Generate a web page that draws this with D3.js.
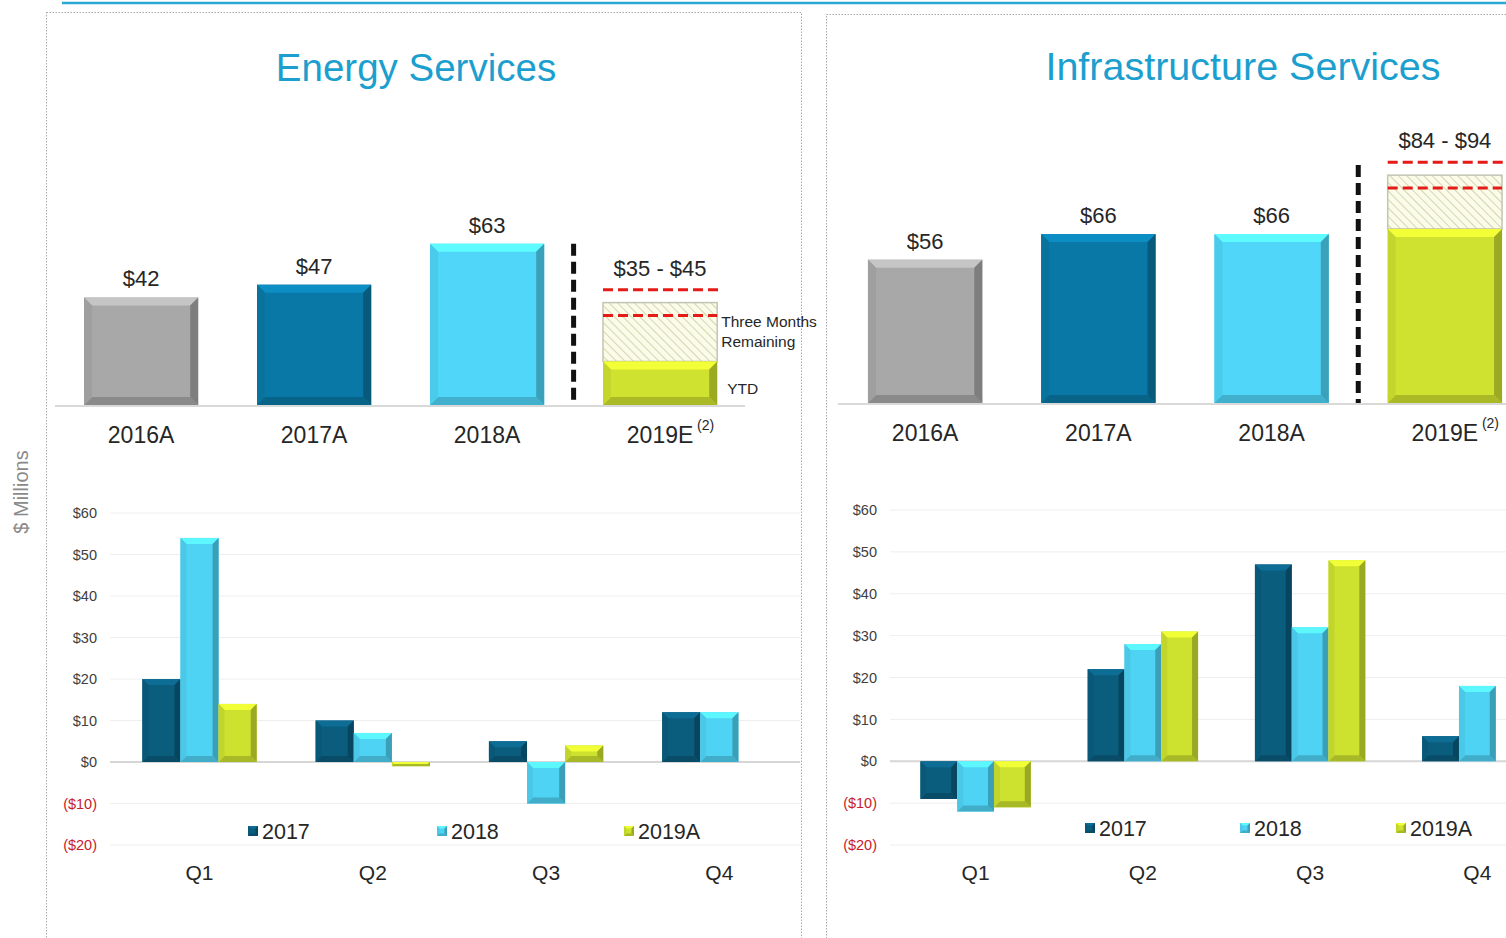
<!DOCTYPE html>
<html>
<head>
<meta charset="utf-8">
<script src="https://cdn.jsdelivr.net/npm/d3@7"></script>
<style>
  body { margin: 0; background: #fff; }
  svg { display: block; font-family: "Liberation Sans", Arial, sans-serif; }
</style>
</head>
<body>
<div class="chart"></div>
<script>
// annual totals ($ millions)
const annualCats = ["2016A", "2017A", "2018A", "2019E"];
const energyAnnual = [42, 47, 63];
const energyYtd = 17;
const energyRange = [35, 45];
const infraAnnual = [56, 66, 66];
const infraYtd = 68;
const infraRange = [84, 94];

// quarterly ($ millions)
const quarters = ["Q1", "Q2", "Q3", "Q4"];
const seriesNames = ["2017", "2018", "2019A"];
const energy2017 = [20, 10, 5, 12];
const energy2018 = [54, 7, -10, 12];
const energy2019 = [14, -1, 4, null];
const infra2017 = [-9, 22, 47, 6];
const infra2018 = [-12, 28, 32, 18];
const infra2019 = [-11, 31, 48, null];
const yTicks = [-20, -10, 0, 10, 20, 30, 40, 50, 60];

const annualColors = ["#a8a8a8", "#0a78a6", "#4fd6f8"];
const seriesColors = ["#0b5d7e", "#4fd3f4", "#cde12f"];
const ytdColor = "#cfe22f";

let svg = d3.select(".chart").append("svg")
  .attr("width", 1506)
  .attr("height", 938);

let defs = svg.append("defs");
let hatch = defs.append("pattern")
  .attr("id", "hatch")
  .attr("patternUnits", "userSpaceOnUse")
  .attr("width", 6).attr("height", 6)
  .attr("patternTransform", "rotate(-45)");
hatch.append("rect").attr("width", 6).attr("height", 6).attr("fill", "#fbfbe9");
hatch.append("line").attr("x1", 0).attr("y1", 0).attr("x2", 0).attr("y2", 6)
  .attr("stroke", "#d3d7ae").attr("stroke-width", 2);

// bevelled bar like the PowerPoint look
function bevelBar(g, x, y, w, h, color, b) {
  if (h <= 0) return;
  b = Math.min(b, h / 2, w / 2);
  let c = d3.color(color);
  g.append("rect").attr("x", x).attr("y", y).attr("width", w).attr("height", h).attr("fill", color);
  let pts = [
    [[x, y], [x + w, y], [x + w - b, y + b], [x + b, y + b], c.brighter(0.45)],
    [[x, y + h], [x + w, y + h], [x + w - b, y + h - b], [x + b, y + h - b], c.darker(0.55)],
    [[x, y], [x + b, y + b], [x + b, y + h - b], [x, y + h], c.darker(0.15)],
    [[x + w, y], [x + w - b, y + b], [x + w - b, y + h - b], [x + w, y + h], c.darker(0.8)]
  ];
  pts.forEach(p => {
    g.append("polygon")
      .attr("points", p.slice(0, 4).map(d => d.join(",")).join(" "))
      .attr("fill", p[4]);
  });
}

// top line and panels
svg.append("line").attr("x1", 62).attr("x2", 1506).attr("y1", 3).attr("y2", 3)
  .attr("stroke", "#2aa8d3").attr("stroke-width", 2.5);
svg.append("rect").attr("x", 46.5).attr("y", 12.5).attr("width", 755).attr("height", 960)
  .attr("fill", "none").attr("stroke", "#a9a9a9").attr("stroke-dasharray", "1.5,1.5");
svg.append("rect").attr("x", 826.5).attr("y", 14.5).attr("width", 720).attr("height", 960)
  .attr("fill", "none").attr("stroke", "#a9a9a9").attr("stroke-dasharray", "1.5,1.5");

svg.append("text")
  .attr("transform", "translate(28,492) rotate(-90)")
  .attr("text-anchor", "middle")
  .attr("font-size", 20)
  .attr("fill", "#8a8a8a")
  .text("$ Millions");

const panels = [
  {
    title: "Energy Services", titleX: 416, titleY: 81, titleSize: 38.5,
    annual: energyAnnual, ytd: energyYtd, range: energyRange,
    aRange: [54.6, 746.6], aBase: 405, aLine: [55, 745], divTop: 63, notes: true,
    q: [energy2017, energy2018, energy2019],
    qRange: [112.9, 806], qY: [845, 513], gridX: [110, 800], axisX: 110,
    legendX: [248, 437, 624], legendY: 839
  },
  {
    title: "Infrastructure Services", titleX: 1243, titleY: 80, titleSize: 39.5,
    annual: infraAnnual, ytd: infraYtd, range: infraRange,
    aRange: [838.5, 1531.5], aBase: 403, aLine: [838, 1506], divTop: 93, notes: false,
    q: [infra2017, infra2018, infra2019],
    qRange: [892, 1561], qY: [845, 510], gridX: [890, 1506], axisX: 890,
    legendX: [1085, 1240, 1396], legendY: 836
  }
];

panels.forEach(p => {
  svg.append("text")
    .attr("x", p.titleX).attr("y", p.titleY)
    .attr("text-anchor", "middle")
    .attr("font-size", p.titleSize)
    .attr("fill", "#1c9fcf")
    .text(p.title);

  // ---- annual chart
  let x = d3.scaleBand().domain(annualCats).range(p.aRange)
    .paddingInner(0.34).paddingOuter(0.17);
  let y = d3.scaleLinear().domain([0, 100]).range([p.aBase, p.aBase - 256]);
  let g = svg.append("g");

  g.append("line").attr("x1", p.aLine[0]).attr("x2", p.aLine[1])
    .attr("y1", p.aBase + 1).attr("y2", p.aBase + 1)
    .attr("stroke", "#d9d9d9").attr("stroke-width", 2);

  p.annual.forEach((v, i) => {
    let cat = annualCats[i];
    bevelBar(g, x(cat), y(v), x.bandwidth(), y(0) - y(v), annualColors[i], 8);
    g.append("text")
      .attr("x", x(cat) + x.bandwidth() / 2).attr("y", y(v) - 11)
      .attr("text-anchor", "middle").attr("font-size", 22).attr("fill", "#262626")
      .text("$" + v);
  });

  // 2019E: YTD + remaining range
  let e = annualCats[3], ex = x(e), ew = x.bandwidth();
  let mid = (p.range[0] + p.range[1]) / 2;
  g.append("rect")
    .attr("x", ex).attr("y", y(mid)).attr("width", ew).attr("height", y(p.ytd) - y(mid))
    .attr("fill", "url(#hatch)").attr("stroke", "#c4c4b4").attr("stroke-width", 1.5);
  bevelBar(g, ex, y(p.ytd), ew, y(0) - y(p.ytd), ytdColor, 8);
  g.append("line")
    .attr("x1", ex).attr("x2", ex + ew + 2).attr("y1", y(p.range[1])).attr("y2", y(p.range[1]))
    .attr("stroke", "#e41b17").attr("stroke-width", 3).attr("stroke-dasharray", "10,5");
  g.append("line")
    .attr("x1", ex).attr("x2", ex + ew).attr("y1", y(p.range[0])).attr("y2", y(p.range[0]))
    .attr("stroke", "#e41b17").attr("stroke-width", 3).attr("stroke-dasharray", "10,5");
  g.append("text")
    .attr("x", ex + ew / 2).attr("y", y(p.range[1]) - 14)
    .attr("text-anchor", "middle").attr("font-size", 22).attr("fill", "#262626")
    .text("$" + p.range[0] + " - $" + p.range[1]);

  // divider between actuals and estimate
  let divX = (x(annualCats[2]) + x.bandwidth() + ex) / 2;
  g.append("line")
    .attr("x1", divX).attr("x2", divX).attr("y1", y(p.divTop)).attr("y2", y(0))
    .attr("stroke", "#111").attr("stroke-width", 5).attr("stroke-dasharray", "12,6");

  if (p.notes) {
    let hm = (y(mid) + y(p.ytd)) / 2;
    g.append("text").attr("x", ex + ew + 4).attr("y", hm - 5)
      .attr("font-size", 15.5).attr("fill", "#262626").text("Three Months");
    g.append("text").attr("x", ex + ew + 4).attr("y", hm + 15)
      .attr("font-size", 15.5).attr("fill", "#262626").text("Remaining");
    g.append("text").attr("x", ex + ew + 10).attr("y", (y(p.ytd) + y(0)) / 2 + 11)
      .attr("font-size", 15.5).attr("fill", "#262626").text("YTD");
  }

  annualCats.forEach(c => {
    g.append("text")
      .attr("x", x(c) + x.bandwidth() / 2).attr("y", p.aBase + 38)
      .attr("text-anchor", "middle").attr("font-size", 23).attr("fill", "#262626")
      .text(c);
  });
  g.append("text")
    .attr("x", ex + ew / 2 + 37).attr("y", p.aBase + 25)
    .attr("font-size", 14).attr("fill", "#262626").text("(2)");

  // ---- quarterly chart
  let qx = d3.scaleBand().domain(quarters).range(p.qRange).paddingInner(0.34).paddingOuter(0.17);
  let sx = d3.scaleBand().domain(seriesNames).range([0, qx.bandwidth()]);
  let qy = d3.scaleLinear().domain([-20, 60]).range(p.qY);
  let qg = svg.append("g");

  qg.selectAll(".grid").data(yTicks).enter().append("line")
    .attr("class", "grid")
    .attr("x1", p.gridX[0]).attr("x2", p.gridX[1])
    .attr("y1", d => qy(d)).attr("y2", d => qy(d))
    .attr("stroke", d => d === 0 ? "#d6d6d6" : "#eeeeee")
    .attr("stroke-width", d => d === 0 ? 2 : 1);

  let yAxis = d3.axisLeft(qy).tickValues(yTicks).tickSize(0).tickPadding(13)
    .tickFormat(d => d < 0 ? "($" + (-d) + ")" : "$" + d);
  let ag = qg.append("g").attr("transform", "translate(" + p.axisX + ",0)").call(yAxis);
  ag.select(".domain").remove();
  ag.selectAll("text")
    .attr("font-size", 14.5)
    .attr("font-family", "Liberation Sans, Arial, sans-serif")
    .attr("fill", d => d < 0 ? "#c8202a" : "#404040");

  p.q.forEach((vals, si) => {
    vals.forEach((v, qi) => {
      if (v === null) return;
      let bx = qx(quarters[qi]) + sx(seriesNames[si]);
      let top = qy(Math.max(v, 0));
      let h = Math.abs(qy(v) - qy(0));
      bevelBar(qg, bx, top, sx.bandwidth(), h, seriesColors[si], 6);
    });
  });

  quarters.forEach(q => {
    qg.append("text")
      .attr("x", qx(q) + qx.bandwidth() / 2).attr("y", 880)
      .attr("text-anchor", "middle").attr("font-size", 21).attr("fill", "#262626")
      .text(q);
  });

  seriesNames.forEach((s, i) => {
    let lx = p.legendX[i];
    bevelBar(qg, lx, p.legendY - 13, 10, 10, seriesColors[i], 2.5);
    qg.append("text")
      .attr("x", lx + 14).attr("y", p.legendY)
      .attr("font-size", 21.5).attr("fill", "#262626")
      .text(s);
  });
});
</script>
</body>
</html>
